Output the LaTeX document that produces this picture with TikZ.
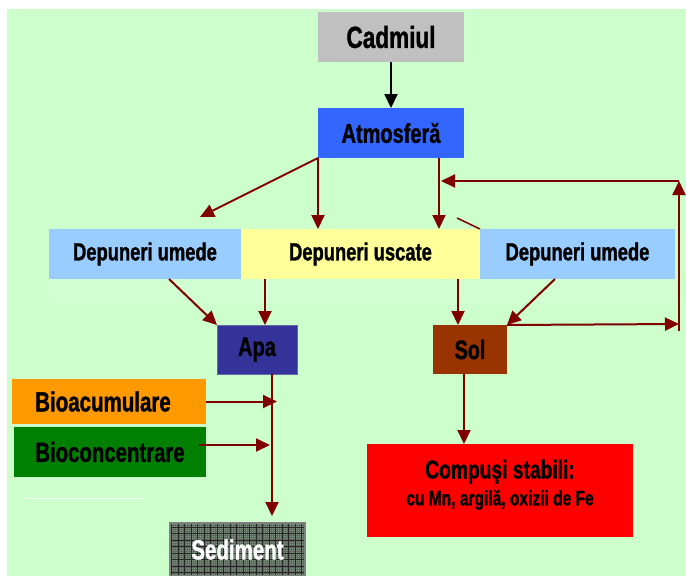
\documentclass[tikz,border=0pt]{standalone}
\usepackage{fontspec}
\setmainfont[FakeStretch=0.74, BoldFeatures={FakeBold=1.2}]{Liberation Sans}
\usetikzlibrary{arrows.meta,calc,patterns}
\definecolor{bgc}{HTML}{CCFFCC}
\definecolor{bgl}{HTML}{D2FFD2}
\definecolor{cadc}{HTML}{C0C0C0}
\definecolor{atmc}{HTML}{3366FF}
\definecolor{umc}{HTML}{99CCFF}
\definecolor{usc}{HTML}{FFFF99}
\definecolor{apac}{HTML}{333399}
\definecolor{apab}{HTML}{6666AA}
\definecolor{solc}{HTML}{993300}
\definecolor{bacc}{HTML}{FF9900}
\definecolor{bcoc}{HTML}{008000}
\definecolor{compc}{HTML}{FF0000}
\definecolor{sedc}{HTML}{7A987C}
\definecolor{arc}{HTML}{800000}
\begin{document}
\begin{tikzpicture}[x=1pt,y=-1pt,
  box/.style={rectangle, inner sep=0pt, outer sep=0pt, align=center},
  fs/.style={font=\bfseries\fontsize{#1}{#1}\selectfont},
  arr/.style={draw=arc, line width=2pt, -{Triangle[length=14pt,width=13pt]}},
  blk/.style={draw=black, line width=2.2pt, -{Triangle[length=14pt,width=13pt]}},
  plain/.style={draw=arc, line width=2pt}]
\useasboundingbox (0,0) rectangle (686,576);
\fill[bgc] (7,9) rectangle (686,576);
\fill[bgl] (49,279) rectangle (675,303);
\draw[white, line width=0.6pt] (26,498) -- (144,498);

\node[box, fill=cadc, minimum width=146pt, minimum height=50pt, fs=30.5] (cad) at (391,37) {Cadmiul};
\node[box, fill=atmc, minimum width=146pt, minimum height=50pt, fs=27] (atm) at (391,133) {Atmosferă};
\node[box, fill=umc, minimum width=192pt, minimum height=50pt, fs=24.8] (dum1) at (145,254) {Depuneri umede};
\node[box, fill=usc, minimum width=239pt, minimum height=50pt, fs=24.8] (dusc) at (360.5,254) {Depuneri uscate};
\node[box, fill=umc, minimum width=195pt, minimum height=50pt, fs=24.8] (dum2) at (577.5,254) {Depuneri umede};
\node[box, fill=apac, draw=apab, line width=1pt, minimum width=80pt, minimum height=49pt, fs=27] (apa) at (257,349.5) {Apa};
\node[box, fill=solc, minimum width=74pt, minimum height=49pt, fs=26.6] (sol) at (470,349.5) {Sol};
\node[box, fill=bacc, minimum width=194pt, minimum height=45pt, fs=27.7] (bac) at (109,401.5) {\hspace*{-12pt}Bioacumulare};
\node[box, fill=bcoc, minimum width=192pt, minimum height=50pt, fs=27.5] (bco) at (110,452) {Bioconcentrare};
\node[box, fill=sedc, draw=gray, line width=1.2pt, minimum width=135pt, minimum height=53pt,
  path picture={
    \draw[black!60, line width=0.4pt, step=2pt] (path picture bounding box.south west) grid (path picture bounding box.north east);
    \draw[black!85, line width=0.8pt, step=6.5pt] (path picture bounding box.south west) grid (path picture bounding box.north east);},
  text=white, fs=27.7] (sed) at (237.5,549.5) {Sediment};
\node[box, fill=compc, minimum width=266pt, minimum height=93pt] (comp) at (500,490.5)
  {{\bfseries\fontsize{26}{26}\selectfont Compuşi stabili:}\\[5pt]{\bfseries\fontsize{21}{21}\selectfont cu Mn, argilă, oxizii de Fe}\\[4pt]};

\coordinate (dl) at (200,217);
\coordinate (fr) at (679,324);
\coordinate (fb) at (679,331);
\coordinate (ft) at (679,181);
\coordinate (fl) at (441,181);
\coordinate (s1) at (457,218);
\coordinate (sedin) at (272,516);
\coordinate (bcs) at (199,445);
\coordinate (bce) at (270,445);

\draw[blk] (cad) -- (atm);
\draw[arr] (atm.south west) -- (dl);
\draw[arr] (atm.south west) -- (atm.south west |- dusc.north);
\draw[arr] ([xshift=-25pt]atm.south east) -- ([xshift=-25pt]atm.south east |- dusc.north);
\draw[plain, line width=1.5pt] (s1) -- (dum2.north west);
\draw[arr] (sol.north east) -- (fr);
\draw[arr] (fb) -- (ft);
\draw[arr] (ft) -- (fl);
\draw[arr] ([xshift=24pt]dum1.south) -- (apa.north west);
\draw[arr] ([xshift=24pt]dusc.south west) -- ([xshift=24pt]dusc.south west |- apa.north);
\draw[arr] ([xshift=-22pt]dusc.south east) -- ([xshift=-22pt]dusc.south east |- sol.north);
\draw[arr] ([xshift=-22.5pt]dum2.south) -- (sol.north east);
\draw[arr] ([xshift=15pt]apa.south) -- (sedin);
\draw[arr] (bac.east) -- ++(71,0);
\draw[arr] (bcs) -- (bce);
\draw[arr] ([xshift=-6pt]sol.south) -- ([xshift=-6pt]sol.south |- comp.north);
\end{tikzpicture}
\end{document}
